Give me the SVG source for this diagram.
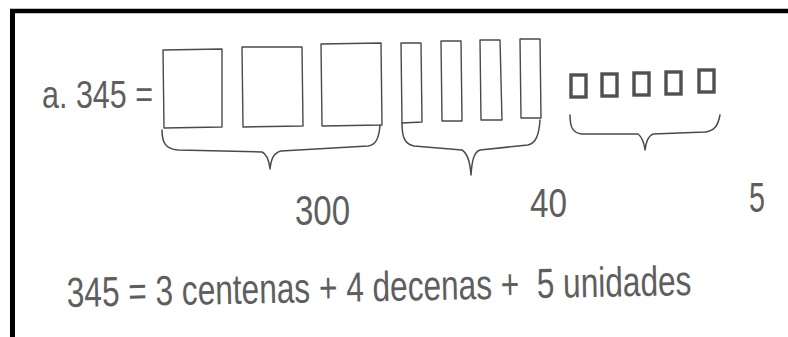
<svg xmlns="http://www.w3.org/2000/svg" width="788" height="337" viewBox="0 0 788 337">
<style>
.t{font-family:"Liberation Sans","DejaVu Sans",sans-serif;fill:#5e5e5e;}
.big{fill:none;stroke:#4a4a4a;stroke-width:1.4;stroke-linejoin:round;}
.sm{fill:none;stroke:#505050;stroke-width:3.4;}
.br{fill:none;stroke:#4a4a4a;stroke-width:1.5;stroke-linejoin:round;stroke-linecap:round;}
</style>
<rect x="0" y="0" width="788" height="337" fill="#ffffff"/>
<g id="frame">
<line x1="10" y1="11" x2="788" y2="11" stroke="#000" stroke-width="4.5"/>
<line x1="12.5" y1="9" x2="12.5" y2="337" stroke="#000" stroke-width="5"/>
</g>
<g id="label-a">
<text class="t" x="42" y="108" font-size="39" textLength="111" lengthAdjust="spacingAndGlyphs">a. 345 =</text>
</g>
<g id="hundreds">
<polygon class="big" points="163,50 222,49 222,127 164,128"/>
<polygon class="big" points="242,47 302,47 303,126 243,127"/>
<polygon class="big" points="321,44 381,43 382,125 322,126"/>
</g>
<g id="tens">
<polygon class="big" points="401,43 421,43 422,122 402,123"/>
<polygon class="big" points="441,41 461,41 462,121 442,121"/>
<polygon class="big" points="480,40 500,40 502,120 481,120"/>
<polygon class="big" points="520,39 540,39 541,118 521,118"/>
</g>
<g id="units">
<rect class="sm" x="571" y="75" width="15" height="22"/>
<rect class="sm" x="602" y="74" width="15" height="22"/>
<rect class="sm" x="634" y="73" width="15" height="22"/>
<rect class="sm" x="666" y="72" width="15" height="22"/>
<rect class="sm" x="699" y="70" width="15" height="22"/>
</g>
<g id="connectors">
<path class="br" d="M162,130 C162,142 165,149 178,150 L262,152 C267,154 269,160 270,169 C271,160 273,153 281,151 L368,146 C376,145 379,138 380,125"/>
<path class="br" d="M402,123 C402,136 404,144 414,146 L462,150 C467,153 470,160 471,175 C472,160 474,152 480,150 L528,145 C536,143 539,135 540,120"/>
<path class="br" d="M570,115 C570,126 572,133 582,134 L638,134 C642,137 644,142 645,150 C646,142 648,136 653,134 L705,132 C714,131 718,126 720,115"/>
</g>
<g id="values">
<text class="t" x="295" y="225" font-size="42" textLength="55" lengthAdjust="spacingAndGlyphs">300</text>
<text class="t" x="530" y="217" font-size="41" textLength="37" lengthAdjust="spacingAndGlyphs">40</text>
<text class="t" x="749" y="212" font-size="42" textLength="16" lengthAdjust="spacingAndGlyphs">5</text>
</g>
<g id="equation" transform="translate(67 307) rotate(-1.1) scale(0.753 1)">
<text class="t" x="0" y="0" font-size="42" xml:space="preserve">345 = 3 centenas + 4 decenas +  5 unidades</text>
</g>
</svg>
